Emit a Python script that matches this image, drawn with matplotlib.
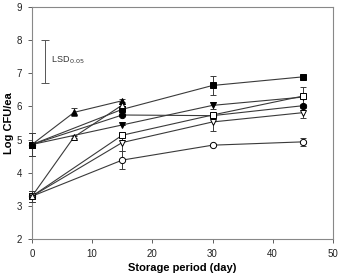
import matplotlib
matplotlib.use("Agg")
import matplotlib.pyplot as plt

plt.rcParams['font.family'] = ['Liberation Sans', 'DejaVu Sans']

# storage days per series
days_long = [0, 15, 30, 45]
days_short = [0, 7, 15]

# filled series (start ~4.85)
sq_fill = [4.85, 5.91, 6.63, 6.89]
sq_fill_err = [0.35, 0.0, 0.30, 0.05]
ci_fill = [4.85, 5.74, 5.72, 6.02]
ci_fill_err = [0.35, 0.0, 0.0, 0.05]
dt_fill = [4.85, 5.44, 6.03, 6.28]
dt_fill_err = [0.35, 0.0, 0.10, 0.05]
ut_fill = [4.85, 5.82, 6.17]
ut_fill_err = [0.35, 0.12, 0.05]

# open series (start ~3.3)
sq_open = [3.29, 5.13, 5.74, 6.31]
sq_open_err = [0.17, 0.0, 0.05, 0.28]
ci_open = [3.29, 4.38, 4.83, 4.93]
ci_open_err = [0.17, 0.27, 0.03, 0.12]
dt_open = [3.29, 4.91, 5.53, 5.81]
dt_open_err = [0.17, 0.25, 0.28, 0.15]
ut_open = [3.29, 5.08, 6.04]
ut_open_err = [0.17, 0.03, 0.03]

lsd_top, lsd_bottom = 8.0, 6.72

fig = plt.figure(figsize=(3.4, 2.76), dpi=100)
ax = fig.add_axes([0.094, 0.134, 0.885, 0.841])

series = [
    (days_long, sq_fill, sq_fill_err, 's', 'black'),
    (days_long, ci_fill, ci_fill_err, 'o', 'black'),
    (days_long, dt_fill, dt_fill_err, 'v', 'black'),
    (days_short, ut_fill, ut_fill_err, '^', 'black'),
    (days_long, sq_open, sq_open_err, 's', 'white'),
    (days_long, ci_open, ci_open_err, 'o', 'white'),
    (days_long, dt_open, dt_open_err, 'v', 'white'),
    (days_short, ut_open, ut_open_err, '^', 'white'),
]

for x, y, e, m, fc in series:
    cont = ax.errorbar(x, y, yerr=e, fmt='-', marker=m, color='#3a3a3a',
                       mfc=fc, mec='black', ms=4.5, mew=0.7, lw=0.8,
                       elinewidth=0.7, capsize=2.5, capthick=0.7, zorder=3)
    arts = [cont.lines[0]] + list(cont.lines[1]) + list(cont.lines[2])
    for art in arts:
        art.set_clip_on(False)

# LSD bar
ax.errorbar([2.2], [(lsd_top + lsd_bottom) / 2], yerr=[(lsd_top - lsd_bottom) / 2],
            fmt='none', ecolor='#555555', elinewidth=0.7, capsize=3, capthick=0.7)
ax.text(3.2, 7.4, r'LSD$_{\,0.05}$', fontsize=6.5, va='center', color='#333333')

ax.set_xlim(0, 50)
ax.set_ylim(2, 9)
ax.set_xticks([0, 10, 20, 30, 40, 50])
ax.set_yticks([2, 3, 4, 5, 6, 7, 8, 9])
ax.tick_params(labelsize=7, direction='out', length=3, width=0.6,
               colors='#444444', labelcolor='#222222', pad=4)
for s in ax.spines.values():
    s.set_color('#888888')
    s.set_linewidth(0.8)

ax.set_xlabel('Storage period (day)', fontsize=8, fontweight='bold')
ax.set_ylabel('Log CFU/ea', fontsize=8, fontweight='bold')
ax.xaxis.set_label_coords(0.5, -0.125)
ax.yaxis.set_label_coords(-0.075, 0.5)
ax.xaxis.label.set_va('center')
ax.yaxis.label.set_va('center')

fig.savefig('out.png', dpi=100)
